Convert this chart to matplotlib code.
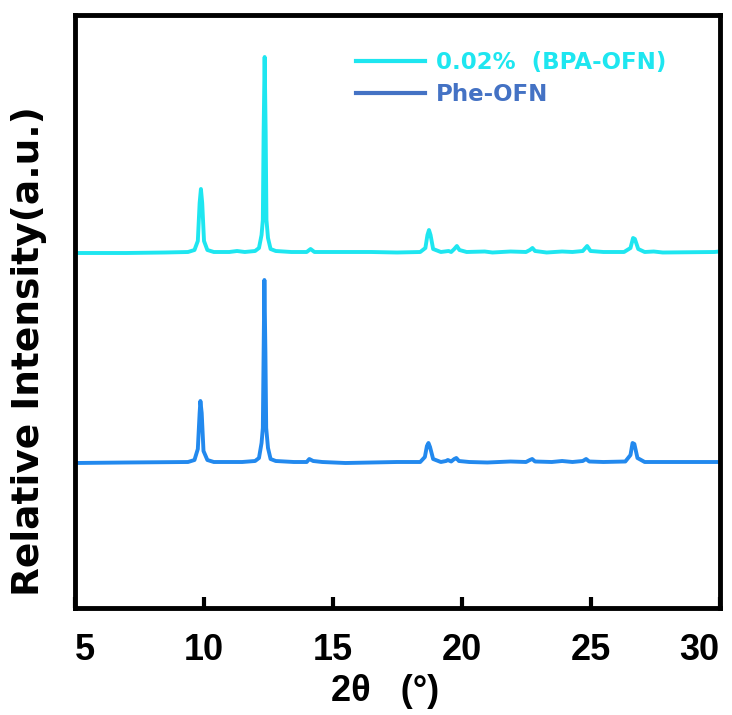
import matplotlib
matplotlib.use("Agg")
import matplotlib.pyplot as plt
from matplotlib.lines import Line2D
from matplotlib.font_manager import FontProperties

# 2theta / intensity (a.u., relative to each baseline)
x_bpa = [5.0, 7.0, 8.5, 9.4, 9.65, 9.78, 9.85, 9.9, 9.95, 10.02, 10.15, 10.4, 11.0, 11.3, 11.6,
         12.0, 12.15, 12.25, 12.3, 12.33, 12.37, 12.41, 12.44, 12.5, 12.6, 12.8, 13.4, 14.0, 14.15,
         14.3, 15.5, 16.5, 17.5, 18.4, 18.6, 18.68, 18.74, 18.8, 18.9, 19.2, 19.5, 19.6, 19.72,
         19.82, 19.92, 20.2, 20.9, 21.2, 21.9, 22.5, 22.65, 22.75, 22.85, 23.3, 23.9, 24.3, 24.7,
         24.87, 25.0, 25.5, 26.3, 26.55, 26.65, 26.72, 26.85, 27.1, 27.45, 27.8, 29.8, 30.0]
y_bpa = [0, 0, 0.5, 1, 3, 12, 50, 64, 50, 12, 3, 1, 1, 2, 1,
         2, 5, 18, 33, 120, 196, 120, 33, 15, 4, 2, 1, 1, 4,
         1, 1, 1, 0.5, 1, 5, 18, 23, 18, 4, 1, 2, 1, 4,
         7, 3, 1, 1.5, 0.5, 1.5, 1, 3, 5, 2, 0.5, 1.5, 1, 2,
         7, 2, 1, 1, 5, 15, 14, 4, 1, 1.5, 0.5, 1, 1.5]

x_phe = [5.0, 7.0, 9.4, 9.65, 9.78, 9.85, 9.88, 9.93, 10.0, 10.15, 10.4, 11.5, 12.0, 12.15,
         12.25, 12.3, 12.33, 12.36, 12.4, 12.43, 12.5, 12.6, 12.8, 13.5, 14.0, 14.1, 14.25, 14.6,
         15.5, 16.5, 17.5, 18.4, 18.58, 18.66, 18.72, 18.78, 18.9, 19.2, 19.4, 19.47, 19.6, 19.72,
         19.8, 19.9, 20.3, 21.0, 21.9, 22.5, 22.65, 22.74, 22.85, 23.5, 23.9, 24.3, 24.7, 24.83,
         24.95, 25.5, 26.35, 26.55, 26.63, 26.7, 26.82, 27.1, 28.0, 30.0]
y_phe = [0, 0.5, 1, 3, 14, 50, 62, 50, 12, 3, 1, 1, 2, 5,
         20, 35, 110, 183, 110, 35, 15, 4, 2, 1, 1, 4, 2, 1,
         0, 0.5, 1, 1, 6, 17, 20, 16, 4, 1, 2, 3, 1.5, 4,
         5, 2, 1, 0.5, 1.5, 1, 3, 4, 1.5, 1, 2, 1, 2, 4,
         1.5, 1, 1.5, 8, 20, 19, 5, 1, 1, 1]

offset_bpa = 355
offset_phe = 145
labels = ["0.02%  (BPA-OFN)", "Phe-OFN"]
xticks = [5, 10, 15, 20, 25, 30]

c_bpa = "#1EE6F0"
c_phe = "#2289EE"
c_phe_leg = "#4472C4"

fig = plt.figure(figsize=(7.32, 7.15), dpi=100)
ax = fig.add_axes([74.5 / 732, 1 - 608 / 715, 645 / 732, 593.5 / 715])

ax.plot(x_bpa, [v + offset_bpa for v in y_bpa], color=c_bpa, lw=2.8, solid_joinstyle="round")
ax.plot(x_phe, [v + offset_phe for v in y_phe], color=c_phe, lw=2.8, solid_joinstyle="round")

ax.set_xlim(5, 30)
ax.set_ylim(0, 593.5)
ax.set_xticks(xticks)
ax.set_yticks([])
ax.tick_params(axis="x", direction="in", length=8, width=3, pad=18)
for s in ax.spines.values():
    s.set_linewidth(3.5)

tick_font = dict(family=["Liberation Sans Narrow", "Liberation Sans", "DejaVu Sans"],
                 weight="bold", size=26)
tls = ax.get_xticklabels()
for t in tls:
    t.set_fontproperties(FontProperties(**tick_font))
tls[0].set_ha("left")
tls[-1].set_ha("right")

ax.set_xlabel("2θ   (°)", fontdict=tick_font)
ax.xaxis.set_label_coords(0.481, -0.111)
ax.set_ylabel("Relative Intensity(a.u.)", family="DejaVu Sans", weight="bold", size=27)
ax.yaxis.set_label_coords(-0.043, 0.433)

handles = [Line2D([], [], color=c_bpa, lw=3), Line2D([], [], color=c_phe_leg, lw=3)]
leg = ax.legend(handles, labels, loc="upper left", bbox_to_anchor=(356 / 732, 1 - 51 / 715),
                bbox_transform=fig.transFigure, frameon=False, borderpad=0,
                borderaxespad=0, handlelength=3.0, handletextpad=0.5, labelspacing=0.4,
                prop=dict(family="DejaVu Sans", weight="bold", size=16.5))
for txt, c in zip(leg.get_texts(), [c_bpa, c_phe_leg]):
    txt.set_color(c)

fig.savefig("out.png", dpi=100)
